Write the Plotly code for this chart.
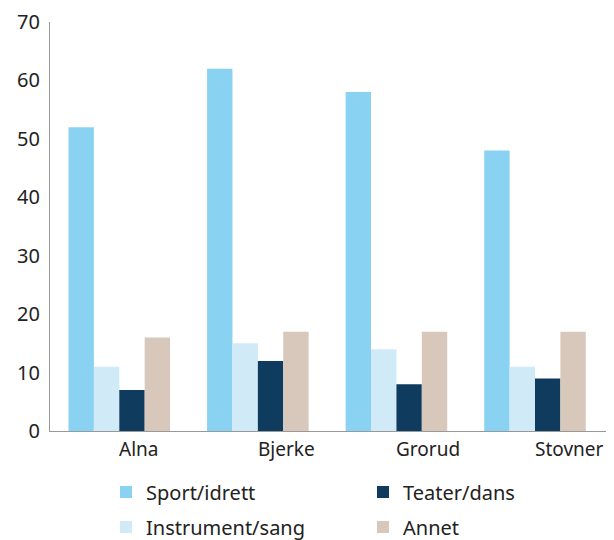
import plotly.graph_objects as go

categories = ["Alna", "Bjerke", "Grorud", "Stovner"]
series_names = ["Sport/idrett", "Instrument/sang", "Teater/dans", "Annet"]
sport = [52, 62, 58, 48]
instrument = [11, 15, 14, 11]
teater = [7, 12, 8, 9]
annet = [16, 17, 17, 17]
y_ticks = [0, 10, 20, 30, 40, 50, 60, 70]

colors = ["#8AD2F2", "#D0EAF8", "#0E3B5E", "#D8C8BB"]
values = [sport, instrument, teater, annet]
legend_ids = ["legend", "legend3", "legend2", "legend4"]

FONT = "Noto Sans"
TXT = "#222222"
fig = go.Figure()
for name, vals, col, lg in zip(series_names, values, colors, legend_ids):
    fig.add_trace(go.Bar(x=categories, y=vals, name=name, marker_color=col,
                         marker_line_width=0, legend=lg))

for c in categories:
    fig.add_annotation(x=c, y=-0.044, xref="x", yref="paper", text=c,
                       showarrow=False, xanchor="left", yanchor="middle",
                       xshift=-2,
                       font=dict(family=FONT, size=19, color=TXT))

def leg(x, y):
    return dict(orientation="h", xref="container", yref="container",
                x=x, y=y, xanchor="left", yanchor="middle",
                font=dict(family=FONT, size=20, color=TXT),
                bgcolor="rgba(0,0,0,0)")

# page has an 8px body margin
W, H = 598, 532
fig.update_layout(
    width=W, height=H,
    margin=dict(l=42, r=0, t=14, b=109, autoexpand=False),
    paper_bgcolor="white", plot_bgcolor="white",
    barmode="group", bargap=0.267, bargroupgap=0,
    showlegend=True,
    legend=leg(98 / W, 1 - 484 / H),
    legend2=leg(355 / W, 1 - 484 / H),
    legend3=leg(98 / W, 1 - 519 / H),
    legend4=leg(355 / W, 1 - 519 / H),
    xaxis=dict(showticklabels=False, showline=True, linecolor="#999999",
               linewidth=1, ticks="", showgrid=False, zeroline=False,
               automargin=False),
    yaxis=dict(range=[0, 70], tickvals=y_ticks, showline=True,
               linecolor="#999999", linewidth=1, showgrid=False,
               zeroline=False, ticks="", ticklabelstandoff=5,
               automargin=False,
               tickfont=dict(family=FONT, size=20, color=TXT)),
)

fig.write_html("out.html")
